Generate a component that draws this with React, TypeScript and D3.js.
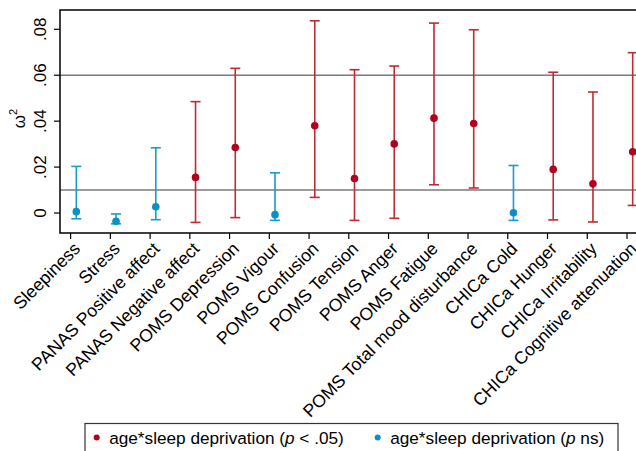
import React from 'react';
import * as d3 from 'd3';

// outcomes, in axis order
const CATEGORIES = [
  'Sleepiness', 'Stress', 'PANAS Positive affect', 'PANAS Negative affect',
  'POMS Depression', 'POMS Vigour', 'POMS Confusion', 'POMS Tension',
  'POMS Anger', 'POMS Fatigue', 'POMS Total mood disturbance', 'CHICa Cold',
  'CHICa Hunger', 'CHICa Irritability', 'CHICa Cognitive attenuation',
];
// omega squared estimate and 90% CI
const ESTIMATE = [0.0006, -0.0036, 0.0027, 0.0155, 0.0285, -0.0007, 0.038, 0.015, 0.0301, 0.0413, 0.039, 0.0001, 0.019, 0.0127, 0.0267];
const LOWER = [-0.0025, -0.0047, -0.0029, -0.0041, -0.002, -0.0032, 0.0068, -0.0032, -0.0023, 0.0123, 0.0109, -0.0032, -0.003, -0.0039, 0.0033];
const UPPER = [0.0203, -0.0004, 0.0284, 0.0485, 0.063, 0.0175, 0.0837, 0.0624, 0.064, 0.0827, 0.0798, 0.0207, 0.0613, 0.0527, 0.0698];
const SIGNIFICANT = [false, false, false, true, true, false, true, true, true, true, true, false, true, true, true];
const Y_TICKS = [0, 0.02, 0.04, 0.06, 0.08];
const Y_TICK_LABELS = ['0', '.02', '.04', '.06', '.08'];
const REF_LINES = [0.01, 0.06];
const LEGEND = ['sig', 'ns'];

const W = 636;
const H = 451;
const FONT = '"Liberation Sans", Arial, Helvetica, sans-serif';
const RED = '#b3001b';
const RED_LINE = '#c02a33';
const BLUE = '#0b8fc5';
const BLUE_LINE = '#1b9acb';

const left = 60, right = 638, top = 10, bottom = 233;
const TICK_SHIFT = 5.7; // ticks sit a little left of the markers
const LABEL_SIZE = 17.6;

export default function App() {
  const y = d3.scaleLinear().domain([-0.0087, 0.0884]).range([bottom, top]);
  const x = d3.scalePoint<string>().domain(CATEGORIES).range([76.3, 632.7]);

  return (
    <svg width={W} height={H} style={{ position: 'absolute', left: 0, top: 0, background: '#fff' }} fontFamily={FONT}>
      <rect x={0} y={0} width={W} height={H} fill="#fff" />

      {/* reference lines */}
      {REF_LINES.map((v) => (
        <line key={v} x1={left} x2={right} y1={y(v)} y2={y(v)} stroke="#7a7a7a" strokeWidth={1.5} />
      ))}

      {/* frame */}
      <rect x={left} y={top} width={right - left} height={bottom - top} fill="none" stroke="#000" strokeWidth={1.5} />

      {/* y axis */}
      {Y_TICKS.map((t, i) => (
        <g key={t}>
          <line x1={left - 6} x2={left} y1={y(t)} y2={y(t)} stroke="#000" strokeWidth={1.2} />
          <text transform={`translate(46,${y(t)}) rotate(-90)`} textAnchor="middle" fontSize={17} fill="#000">
            {Y_TICK_LABELS[i]}
          </text>
        </g>
      ))}
      <text transform={`translate(25,${(top + bottom) / 2 - 3}) rotate(-90)`} textAnchor="middle" fontSize={17} fill="#000">
        ω<tspan fontSize={11} dy={-8}>2</tspan>
      </text>

      {/* x axis */}
      {CATEGORIES.map((c) => {
        const tx = (x(c) as number) - TICK_SHIFT;
        return (
          <g key={c}>
            <line x1={tx} x2={tx} y1={bottom} y2={bottom + 6} stroke="#000" strokeWidth={1.2} />
            <text transform={`translate(${tx + 2},${bottom + 8}) rotate(-45)`} textAnchor="end" dy="0.7em" fontSize={LABEL_SIZE} fill="#000">
              {c}
            </text>
          </g>
        );
      })}

      {/* error bars */}
      {CATEGORIES.map((c, i) => {
        const cx = x(c) as number;
        const col = SIGNIFICANT[i] ? RED_LINE : BLUE_LINE;
        return (
          <g key={c}>
            <line x1={cx} x2={cx} y1={y(LOWER[i])} y2={y(UPPER[i])} stroke={col} strokeWidth={1.6} />
            <line x1={cx - 5} x2={cx + 5} y1={y(LOWER[i])} y2={y(LOWER[i])} stroke={col} strokeWidth={1.6} />
            <line x1={cx - 5} x2={cx + 5} y1={y(UPPER[i])} y2={y(UPPER[i])} stroke={col} strokeWidth={1.6} />
            <circle cx={cx} cy={y(ESTIMATE[i])} r={3.8} fill={SIGNIFICANT[i] ? RED : BLUE} />
          </g>
        );
      })}

      {/* legend */}
      <rect x={85} y={423.5} width={533} height={40} fill="#fff" stroke="#333" strokeWidth={1.2} />
      {LEGEND.map((k) => {
        const ox = k === 'sig' ? 96.7 : 377.7;
        return (
          <g key={k}>
            <circle cx={ox} cy={437.5} r={3} fill={k === 'sig' ? RED : BLUE} />
            <text x={ox + 12.5} y={443.5} fontSize={17.2} fill="#000">
              age*sleep deprivation (<tspan fontStyle="italic">p</tspan>
              {k === 'sig' ? ' < .05)' : ' ns)'}
            </text>
          </g>
        );
      })}
    </svg>
  );
}
